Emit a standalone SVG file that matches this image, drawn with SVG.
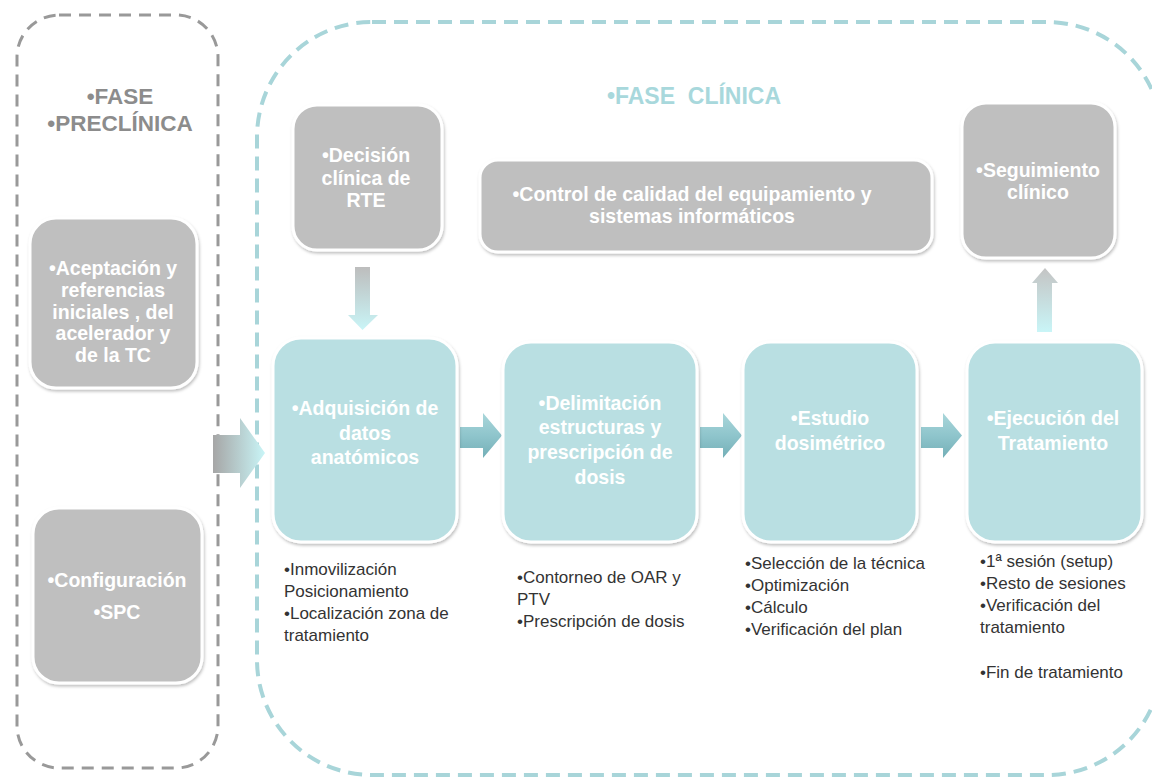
<svg xmlns="http://www.w3.org/2000/svg" width="1152" height="778" viewBox="0 0 1152 778">
<defs>
<filter id="sh" x="-10%" y="-10%" width="125%" height="125%">
<feDropShadow dx="1" dy="2" stdDeviation="1.5" flood-color="#000" flood-opacity="0.25"/>
</filter>
<linearGradient id="gH" x1="0" y1="0" x2="1" y2="0">
<stop offset="0" stop-color="#a6a6a6"/>
<stop offset="1" stop-color="#c9f5f7"/>
</linearGradient>
<linearGradient id="gDown" x1="0" y1="0" x2="0" y2="1">
<stop offset="0" stop-color="#bdbdbd"/>
<stop offset="1" stop-color="#c9f5f7"/>
</linearGradient>
<linearGradient id="gUp" x1="0" y1="0" x2="0" y2="1">
<stop offset="0" stop-color="#c4c4c4"/>
<stop offset="1" stop-color="#c9f5f7"/>
</linearGradient>
<linearGradient id="gT" x1="0" y1="0" x2="0" y2="1">
<stop offset="0" stop-color="#a9d6da"/>
<stop offset="0.5" stop-color="#8fc5cc"/>
<stop offset="1" stop-color="#74afb7"/>
</linearGradient>
</defs>
<style>
.gray{fill:#bfbfbf;stroke:#fff;stroke-width:3;filter:url(#sh)}
.teal{fill:#b9dfe2;stroke:#fff;stroke-width:3;filter:url(#sh)}
.nt{font-family:"Liberation Sans",Arial,sans-serif;font-weight:bold;fill:#fff;text-anchor:middle;font-size:19.5px}
.lst{font-family:"Liberation Sans",Arial,sans-serif;font-size:17px;fill:#333}
.ph{font-family:"Liberation Sans",Arial,sans-serif;font-weight:bold;text-anchor:middle}
</style>

<g id="fase-preclinica">
<rect x="17" y="15" width="201" height="753" rx="42" fill="none" stroke="#999" stroke-width="3" stroke-dasharray="12 8"/>
<text class="ph" x="120" y="104" font-size="22.5" fill="#8c8c8c">•FASE</text>
<text class="ph" x="120" y="131" font-size="22.5" fill="#8c8c8c">•PRECLÍNICA</text>
</g>

<g id="fase-clinica">
<rect x="257" y="22" width="905" height="753" rx="115" fill="none" stroke="#a8d5d9" stroke-width="4" stroke-dasharray="14 8"/>
<text class="ph" x="694" y="104" font-size="23" fill="#a8d8dc" xml:space="preserve">•FASE  CLÍNICA</text>
</g>

<g id="connectors">
<polygon points="213,435 240,435 240,418 265,453 240,488 240,473 213,473" fill="url(#gH)"/>
<polygon points="355,267 370,267 370,315 378,315 362.5,330 348,315 355,315" fill="url(#gDown)"/>
<polygon points="1037,332 1037,283 1032,283 1045,268 1058,283 1052,283 1052,332" fill="url(#gUp)"/>
<polygon points="460,427 483,427 483,413 502,435.5 483,458 483,448 460,448" fill="url(#gT)"/>
<polygon points="700,427 723,427 723,413 742,435.5 723,458 723,448 700,448" fill="url(#gT)"/>
<polygon points="921,427 943,427 943,413 962,435.5 943,458 943,448 921,448" fill="url(#gT)"/>
</g>

<g id="aceptacion">
<rect class="gray" x="30" y="218" width="167" height="170" rx="26"/>
<text class="nt" x="113" y="275">•Aceptación y</text>
<text class="nt" x="113" y="297">referencias</text>
<text class="nt" x="113" y="319">iniciales , del</text>
<text class="nt" x="113" y="340">acelerador y</text>
<text class="nt" x="113" y="362">de la TC</text>
</g>

<g id="configuracion">
<rect class="gray" x="33" y="508" width="169" height="175" rx="26"/>
<text class="nt" x="117" y="587">•Configuración</text>
<text class="nt" x="117" y="619">•SPC</text>
</g>

<g id="decision">
<rect class="gray" x="293" y="105" width="149" height="145" rx="24"/>
<text class="nt" x="366" y="162">•Decisión</text>
<text class="nt" x="366" y="185">clínica de</text>
<text class="nt" x="366" y="207">RTE</text>
</g>

<g id="control">
<rect class="gray" x="480" y="160" width="452" height="92" rx="18"/>
<text class="nt" x="692" y="201">•Control de calidad del equipamiento y</text>
<text class="nt" x="692" y="223">sistemas informáticos</text>
</g>

<g id="seguimiento">
<rect class="gray" x="962" y="103" width="153" height="155" rx="24"/>
<text class="nt" x="1038" y="177">•Seguimiento</text>
<text class="nt" x="1038" y="199">clínico</text>
</g>

<g id="adquisicion">
<rect class="teal" x="273" y="338" width="184" height="204" rx="28"/>
<text class="nt" x="365" y="415">•Adquisición de</text>
<text class="nt" x="365" y="440">datos</text>
<text class="nt" x="365" y="464">anatómicos</text>
</g>

<g id="delimitacion">
<rect class="teal" x="503" y="342" width="194" height="200" rx="28"/>
<text class="nt" x="600" y="410">•Delimitación</text>
<text class="nt" x="600" y="434">estructuras y</text>
<text class="nt" x="600" y="459">prescripción de</text>
<text class="nt" x="600" y="484">dosis</text>
</g>

<g id="estudio">
<rect class="teal" x="743" y="342" width="174" height="200" rx="28"/>
<text class="nt" x="830" y="425">•Estudio</text>
<text class="nt" x="830" y="450">dosimétrico</text>
</g>

<g id="ejecucion">
<rect class="teal" x="967" y="342" width="175" height="200" rx="28"/>
<text class="nt" x="1053" y="425">•Ejecución del</text>
<text class="nt" x="1053" y="450">Tratamiento</text>
</g>

<g id="lista-adquisicion">
<text class="lst" x="284" y="575">•Inmovilización</text>
<text class="lst" x="284" y="597">Posicionamiento</text>
<text class="lst" x="284" y="619">•Localización zona de</text>
<text class="lst" x="284" y="641">tratamiento</text>
</g>

<g id="lista-delimitacion">
<text class="lst" x="517" y="583">•Contorneo de OAR y</text>
<text class="lst" x="517" y="605">PTV</text>
<text class="lst" x="517" y="627">•Prescripción de dosis</text>
</g>

<g id="lista-estudio">
<text class="lst" x="745" y="569">•Selección de la técnica</text>
<text class="lst" x="745" y="591">•Optimización</text>
<text class="lst" x="745" y="613">•Cálculo</text>
<text class="lst" x="745" y="635">•Verificación del plan</text>
</g>

<g id="lista-ejecucion">
<text class="lst" x="980" y="567">•1ª sesión (setup)</text>
<text class="lst" x="980" y="589">•Resto de sesiones</text>
<text class="lst" x="980" y="611">•Verificación del</text>
<text class="lst" x="980" y="633">tratamiento</text>
<text class="lst" x="980" y="678">•Fin de tratamiento</text>
</g>
</svg>
